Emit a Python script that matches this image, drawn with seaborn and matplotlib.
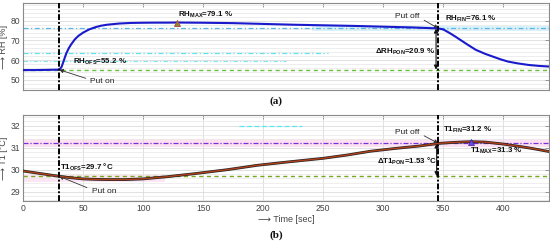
import numpy as np
import pandas as pd
import matplotlib
matplotlib.use("Agg")
import matplotlib.pyplot as plt
import seaborn as sns
from matplotlib.ticker import MultipleLocator

# ---------------- data ----------------
rh_time = [0, 10, 20, 28, 30, 32, 34, 36, 38, 40, 43, 46, 50, 55, 60, 65, 70, 80, 90, 100,
           110, 120, 128, 150, 175, 200, 225, 250, 275, 300, 325, 346, 350, 355, 360, 365,
           370, 377, 385, 391, 398, 404, 412, 421, 430, 438]
rh_value = [55.0, 55.0, 55.1, 55.2, 55.2, 56.5, 60.0, 63.5, 66.0, 68.0, 70.5, 72.3, 74.0,
            75.6, 76.7, 77.5, 78.0, 78.6, 78.9, 79.0, 79.05, 79.05, 79.1, 79.0, 78.8, 78.4,
            78.0, 77.7, 77.4, 77.0, 76.6, 76.1, 75.6, 73.9, 72.0, 70.0, 68.0, 65.3, 63.2,
            61.9, 60.4, 59.3, 58.4, 57.6, 57.1, 56.8]

t1_time = [0, 10, 20, 30, 40, 50, 60, 70, 85, 100, 120, 143, 170, 195, 220, 250, 270, 289,
           310, 330, 346, 360, 373, 385, 400, 415, 425, 438]
t1_value = [29.94, 29.86, 29.78, 29.70, 29.63, 29.58, 29.56, 29.55, 29.55, 29.58, 29.68,
            29.82, 30.00, 30.20, 30.35, 30.52, 30.67, 30.84, 30.97, 31.08, 31.20, 31.25,
            31.28, 31.26, 31.17, 31.05, 30.96, 30.83]

t_on, t_off = 30, 346
rh_ofs, rh_max, rh_fin, t_rhmax = 55.2, 79.1, 76.1, 128
t1_ofs, t1_max, t1_fin, t_t1max = 29.7, 31.28, 31.2, 373
x_ticks = [0, 50, 100, 150, 200, 250, 300, 350, 400]

df_rh = pd.DataFrame({"t": rh_time, "v": rh_value})
df_t1 = pd.DataFrame({"t": t1_time, "v": t1_value})

# ---------------- style ----------------
sns.set_theme(style="white")
plt.rcParams["font.family"] = ["Liberation Sans", "DejaVu Sans"]
plt.rcParams["mathtext.default"] = "bf"
plt.rcParams["mathtext.fontset"] = "custom"
plt.rcParams["mathtext.bf"] = "Liberation Sans:bold"

fig = plt.figure(figsize=(5.5, 2.44), dpi=100)
ax1 = fig.add_axes([0.042, 0.632, 0.956, 0.354])
ax2 = fig.add_axes([0.042, 0.177, 0.956, 0.352])

tick_color = "#444444"
spine_color = "#8a8a8a"
fs = 6.2
fa = 5.7

for ax in (ax1, ax2):
    ax.set_xlim(0, 438)
    for s in ax.spines.values():
        s.set_color(spine_color)
        s.set_linewidth(0.8)
    ax.tick_params(axis="both", which="major", direction="in", length=3, width=0.6,
                   colors=spine_color, labelcolor=tick_color, labelsize=fs,
                   top=True, right=True, pad=2)
    ax.tick_params(axis="both", which="minor", length=0)
    ax.set_xticks(x_ticks)

# ---------------- panel (a) ----------------
ax1.set_ylim(45, 88.8)
ax1.yaxis.set_major_locator(MultipleLocator(10))
ax1.yaxis.set_minor_locator(MultipleLocator(2))
ax1.grid(True, axis="y", which="minor", color="#e6e6e6", lw=0.5)
ax1.grid(True, axis="y", which="major", color="#dcdcdc", lw=0.6)
ax1.set_yticks([50, 60, 70, 80])
ax1.set_xticklabels([])

# faint lines / bands present in the original
ax1.axhspan(74.8, 77.4, xmin=0.55, xmax=1.0, color="#d8f2fb", lw=0, zorder=0)
ax1.axhline(63.7, xmin=0.0, xmax=0.58, color="#5ee6ee", lw=0.9, ls=(0, (4, 2, 1, 2)), zorder=1)
ax1.axhline(59.7, xmin=0.0, xmax=0.50, color="#7eeaf0", lw=0.8, ls=(0, (4, 2, 1, 2)), zorder=1)
ax1.axhline(rh_fin, color="#57b7e8", lw=0.9, ls=(0, (4, 2, 1, 2)), zorder=2)
ax1.axhline(rh_ofs, color="#6cc040", lw=1.0, ls=(0, (3, 2.5)), zorder=2)

sns.lineplot(data=df_rh, x="t", y="v", ax=ax1, color="#1a1acc", lw=1.5, zorder=4)
ax1.axvline(t_on, color="black", lw=1.4, ls=(0, (3, 1, 1, 1)), zorder=5)
ax1.axvline(t_off, color="black", lw=1.4, ls=(0, (3, 1, 1, 1)), zorder=5)
ax1.plot([t_rhmax], [rh_max], marker="^", ms=5, mfc="#8c8a3c", mec="#b04030", mew=0.6, zorder=6)

tk = dict(fontsize=fa, fontweight="bold", color="#111111")
ax1.text(41.7, 59.3, r"RH$_{OFS}$=55.2 %", va="center", ha="left", **tk)
ax1.text(129, 83.2, r"RH$_{MAX}$=79.1 %", va="center", ha="left", **tk)
ax1.text(351.7, 81.0, r"RH$_{FIN}$=76.1 %", va="center", ha="left", **tk)
ax1.text(293, 64.2, r"$\Delta$RH$_{PON}$=20.9 %", va="center", ha="left", **tk)
ax1.annotate("Put on", xy=(t_on, rh_ofs), xytext=(56, 49.0), fontsize=fa + 0.3, color="#222222",
             va="center", ha="left",
             arrowprops=dict(arrowstyle="-|>", color="#333333", lw=0.6, mutation_scale=6,
                             relpos=(0, 0.8), shrinkA=1, shrinkB=0))
ax1.annotate("Put off", xy=(t_off, rh_fin), xytext=(310, 82.3), fontsize=fa + 0.3, color="#222222",
             va="center", ha="left",
             arrowprops=dict(arrowstyle="-|>", color="#333333", lw=0.6, mutation_scale=6,
                             relpos=(1, 0.3), shrinkA=1, shrinkB=0))
ax1.annotate("", xy=(344, rh_ofs), xytext=(344, rh_fin),
             arrowprops=dict(arrowstyle="<|-|>", color="#111111", lw=0.8, mutation_scale=6,
                             shrinkA=0, shrinkB=0))
ax1.set_ylabel("⟶ RH [%]", fontsize=fs + 0.3, color=tick_color,
               family=["Liberation Sans", "DejaVu Sans"])
ax1.yaxis.set_label_coords(-0.029, 0.5)
ax1.set_xlabel("")

# ---------------- panel (b) ----------------
ax2.set_ylim(28.58, 32.5)
ax2.set_yticks([29, 30, 31, 32])
ax2.yaxis.set_minor_locator(MultipleLocator(0.2))
ax2.grid(True, axis="y", which="minor", color="#e8e8e8", lw=0.5)
ax2.grid(True, axis="y", which="major", color="#dcdcdc", lw=0.6)
ax2.grid(True, axis="x", which="major", color="#dcdcdc", lw=0.6)

ax2.axhspan(31.02, 31.42, color="#fde1f1", lw=0, zorder=0)
ax2.axhspan(29.42, 29.82, xmin=0.0, xmax=0.27, color="#fde6f3", lw=0, zorder=0)
ax2.axhline(32.0, xmin=0.41, xmax=0.53, color="#5ee6ee", lw=0.9, ls=(0, (4, 2)), zorder=1)
ax2.axhline(t1_fin, color="#7a2ee0", lw=0.9, ls=(0, (4, 1.5, 1, 1.5)), zorder=2)
ax2.axhline(t1_ofs, color="#78a820", lw=1.0, ls=(0, (3, 2.5)), zorder=2)

sns.lineplot(data=df_t1, x="t", y="v", ax=ax2, color="#222222", lw=2.0, zorder=3)
sns.lineplot(data=df_t1, x="t", y="v", ax=ax2, color="#b0401a", lw=1.0, zorder=4)
ax2.axvline(t_on, color="black", lw=1.4, ls=(0, (3, 1, 1, 1)), zorder=5)
ax2.axvline(t_off, color="black", lw=1.4, ls=(0, (3, 1, 1, 1)), zorder=5)
ax2.plot([t_t1max], [t1_max], marker="^", ms=5, mfc="#6a4ae0", mec="#3020a0", mew=0.5, zorder=6)

ax2.text(30.8, 30.12, r"T1$_{OFS}$=29.7 °C", va="center", ha="left", **tk)
ax2.text(350, 31.81, r"T1$_{FIN}$=31.2 %", va="center", ha="left", **tk)
ax2.text(372.5, 30.85, r"T1$_{MAX}$=31.3 %", va="center", ha="left", **tk)
ax2.text(295, 30.39, r"$\Delta$T1$_{PON}$=1.53 °C", va="center", ha="left", **tk)
ax2.annotate("Put on", xy=(t_on, t1_ofs), xytext=(57, 29.0), fontsize=fa + 0.3, color="#222222",
             va="center", ha="left",
             arrowprops=dict(arrowstyle="-|>", color="#333333", lw=0.6, mutation_scale=6,
                             relpos=(0, 0.8), shrinkA=1, shrinkB=0))
ax2.annotate("Put off", xy=(t_off, t1_fin), xytext=(310, 31.72), fontsize=fa + 0.3, color="#222222",
             va="center", ha="left",
             arrowprops=dict(arrowstyle="-|>", color="#333333", lw=0.6, mutation_scale=6,
                             relpos=(1, 0.3), shrinkA=1, shrinkB=0))
ax2.annotate("", xy=(344.5, t1_ofs), xytext=(344.5, t1_fin),
             arrowprops=dict(arrowstyle="<|-|>", color="#111111", lw=0.8, mutation_scale=6,
                             shrinkA=0, shrinkB=0))
ax2.set_xticklabels([str(v) for v in x_ticks])
ax2.set_ylabel("⟶ T1 [°C]", fontsize=fs + 0.3, color=tick_color,
               family=["Liberation Sans", "DejaVu Sans"])
ax2.yaxis.set_label_coords(-0.029, 0.5)
ax2.set_xlabel("⟶ Time [sec]", fontsize=fs + 0.3, color=tick_color, labelpad=2,
               family=["Liberation Sans", "DejaVu Sans"])

fig.text(0.502, 0.585, "(a)", fontsize=8, fontweight="bold", family="Liberation Serif",
         ha="center", va="center", color="#111111")
fig.text(0.502, 0.038, "(b)", fontsize=8, fontweight="bold", family="Liberation Serif",
         ha="center", va="center", color="#111111")

fig.savefig("out.png", dpi=100)
